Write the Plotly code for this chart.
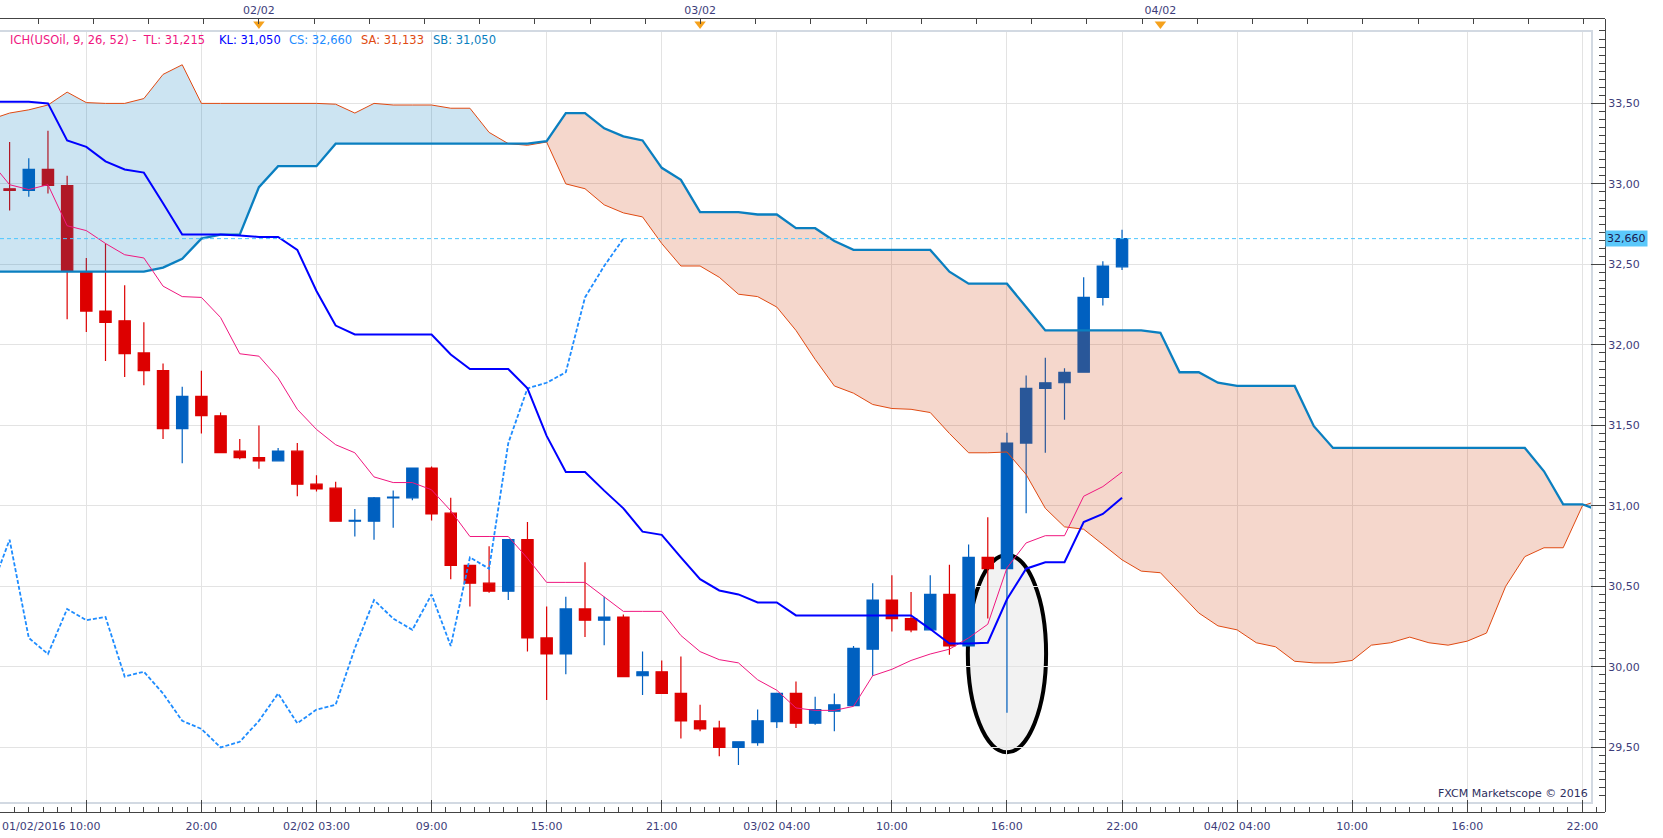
import plotly.graph_objects as go
import numpy as np

# ------------------------------------------------------------------ data
# x axis = hourly bar index (bar 0 = 01/02/2016 10:00, one bar per hour)
tick_bars = [4, 10, 16, 22, 28, 34, 40, 46, 52, 58, 64, 70, 76, 82]
tick_labels = ["", "20:00", "02/02 03:00", "09:00", "15:00", "21:00", "03/02 04:00",
               "10:00", "16:00", "22:00", "04/02 04:00", "10:00", "16:00", "22:00"]
first_label = "01/02/2016 10:00"
day_bars = [13, 36, 60]
day_labels = ["02/02", "03/02", "04/02"]
price_ticks = [29.5, 30.0, 30.5, 31.0, 31.5, 32.0, 32.5, 33.0, 33.5]

# candles, bars 0..58
opens = [32.97, 32.96, 33.09, 32.99, 32.455, 32.21, 32.15, 31.95, 31.84, 31.48,
         31.68, 31.56, 31.34, 31.30, 31.28, 31.34, 31.135, 31.11, 30.905, 30.905,
         31.05, 31.05, 31.235, 30.955, 30.63, 30.52, 30.47, 30.79, 30.18, 30.08,
         30.36, 30.29, 30.31, 29.945, 29.97, 29.835, 29.665, 29.62, 29.50, 29.53,
         29.66, 29.835, 29.65, 29.725, 29.76, 30.11, 30.415, 30.30, 30.23, 30.45,
         30.13, 30.68, 30.61, 31.39, 31.73, 31.765, 31.83, 32.295, 32.485]
highs = [33.26, 33.16, 33.33, 33.05, 32.54, 32.63, 32.37, 32.14, 31.885, 31.74,
         31.84, 31.58, 31.415, 31.50, 31.36, 31.39, 31.19, 31.15, 30.98, 31.055,
         31.095, 31.235, 31.245, 31.05, 30.63, 30.75, 30.79, 30.90, 30.375, 30.435,
         30.65, 30.435, 30.325, 30.095, 30.04, 30.065, 29.765, 29.665, 29.535, 29.735,
         29.835, 29.91, 29.815, 29.835, 30.13, 30.52, 30.57, 30.465, 30.57, 30.635,
         30.76, 30.93, 31.455, 31.81, 31.92, 31.855, 32.42, 32.52, 32.715]
lows = [32.835, 32.92, 32.94, 32.16, 32.08, 31.90, 31.80, 31.75, 31.415, 31.265,
        31.45, 31.33, 31.29, 31.23, 31.28, 31.06, 31.09, 30.905, 30.81, 30.79,
        30.865, 31.035, 30.91, 30.545, 30.375, 30.46, 30.415, 30.095, 29.795, 29.955,
        30.185, 30.135, 29.935, 29.825, 29.835, 29.555, 29.60, 29.445, 29.39, 29.51,
        29.62, 29.62, 29.64, 29.60, 29.76, 29.945, 30.22, 30.215, 30.23, 30.075,
        30.13, 30.30, 29.715, 30.955, 31.33, 31.535, 31.83, 32.245, 32.465]
closes = [32.96, 33.09, 32.99, 32.46, 32.21, 32.14, 31.945, 31.84, 31.48, 31.68,
          31.56, 31.33, 31.30, 31.28, 31.34, 31.135, 31.105, 30.905, 30.91, 31.05,
          31.055, 31.235, 30.95, 30.63, 30.52, 30.47, 30.79, 30.18, 30.08, 30.36,
          30.29, 30.31, 29.94, 29.97, 29.835, 29.665, 29.615, 29.50, 29.535, 29.665,
          29.835, 29.65, 29.735, 29.765, 30.115, 30.415, 30.30, 30.23, 30.45, 30.13,
          30.68, 30.61, 31.39, 31.73, 31.765, 31.83, 32.295, 32.49, 32.66]

# Ichimoku lines, bars -1..58
tenkan = [33.14, 32.995, 32.965, 32.995, 32.74, 32.71, 32.63, 32.56, 32.54, 32.365,
          32.30, 32.295, 32.17, 31.945, 31.93, 31.795, 31.60, 31.475, 31.38, 31.33,
          31.18, 31.145, 31.145, 31.10, 30.97, 30.81, 30.81, 30.81, 30.675, 30.525,
          30.525, 30.525, 30.435, 30.345, 30.345, 30.345, 30.195, 30.095, 30.045, 30.025,
          29.92, 29.855, 29.745, 29.73, 29.73, 29.755, 29.945, 29.985, 30.04, 30.08,
          30.11, 30.18, 30.265, 30.615, 30.77, 30.815, 30.815, 31.06, 31.12, 31.21]
kijun = [33.51, 33.51, 33.51, 33.50, 33.27, 33.23, 33.14, 33.09, 33.07, 32.88,
         32.685, 32.685, 32.685, 32.68, 32.67, 32.67, 32.59, 32.335, 32.12, 32.065,
         32.065, 32.065, 32.065, 32.065, 31.94, 31.85, 31.85, 31.85, 31.73, 31.435,
         31.21, 31.21, 31.095, 30.985, 30.84, 30.82, 30.68, 30.545, 30.475, 30.45,
         30.40, 30.40, 30.32, 30.32, 30.32, 30.32, 30.32, 30.32, 30.32, 30.235,
         30.145, 30.145, 30.15, 30.42, 30.61, 30.65, 30.65, 30.90, 30.95, 31.05]
# Chikou span, bars -1..32
chikou = [30.47, 30.79, 30.18, 30.08, 30.36, 30.29, 30.31, 29.94, 29.97, 29.835,
          29.665, 29.615, 29.50, 29.535, 29.665, 29.835, 29.65, 29.735, 29.765, 30.115,
          30.415, 30.30, 30.23, 30.45, 30.13, 30.68, 30.61, 31.39, 31.73, 31.765,
          31.83, 32.295, 32.49, 32.66]
# Senkou spans, bars -1..83
senkou_a = [33.40, 33.44, 33.46, 33.49, 33.57, 33.505, 33.50, 33.50, 33.53, 33.68,
            33.74, 33.50, 33.50, 33.50, 33.50, 33.50, 33.50, 33.50, 33.495, 33.44,
            33.50, 33.49, 33.49, 33.49, 33.47, 33.47, 33.32, 33.25, 33.24, 33.26,
            33.00, 32.97, 32.87, 32.82, 32.795, 32.63, 32.49, 32.49, 32.42, 32.315,
            32.30, 32.235, 32.09, 31.91, 31.745, 31.70, 31.63, 31.605, 31.60, 31.58,
            31.45, 31.33, 31.33, 31.335, 31.195, 30.985, 30.87, 30.855, 30.76, 30.665,
            30.595, 30.585, 30.46, 30.335, 30.255, 30.23, 30.15, 30.125, 30.035, 30.025,
            30.025, 30.04, 30.135, 30.15, 30.185, 30.15, 30.135, 30.16, 30.21, 30.50,
            30.685, 30.74, 30.74, 31.00, 31.04]
senkou_b = [32.455, 32.455, 32.455, 32.455, 32.455, 32.455, 32.455, 32.455, 32.455, 32.48,
            32.535, 32.66, 32.685, 32.685, 32.98, 33.11, 33.11, 33.11, 33.25, 33.25,
            33.25, 33.25, 33.25, 33.25, 33.25, 33.25, 33.25, 33.25, 33.25, 33.265,
            33.44, 33.44, 33.345, 33.295, 33.27, 33.10, 33.025, 32.825, 32.825, 32.825,
            32.81, 32.81, 32.725, 32.725, 32.645, 32.59, 32.59, 32.59, 32.59, 32.59,
            32.455, 32.38, 32.38, 32.38, 32.235, 32.09, 32.09, 32.09, 32.09, 32.09,
            32.09, 32.075, 31.83, 31.83, 31.765, 31.745, 31.745, 31.745, 31.745, 31.495,
            31.36, 31.36, 31.36, 31.36, 31.36, 31.36, 31.36, 31.36, 31.36, 31.36,
            31.36, 31.215, 31.01, 31.01, 30.965]

legend_items = [("ICH(USOil, 9, 26, 52) -", "TL: 31,215"), ("KL: 31,050",), ("CS: 32,660",),
                ("SA: 31,133",), ("SB: 31,050",)]
watermark = "FXCM Marketscope \u00a9 2016"
highlight_bar = 52

# ------------------------------------------------------------------ geometry / style
W, H = 1663, 838
AXIS_R, FRAME_R = 1605, 1591
TOP_AXIS, FRAME_T, FRAME_B, BOT_AXIS = 19, 32, 802, 812
BAR0_PX, PX_PER_BAR = 9.6, 19.18
REF_PRICE, REF_PX, PX_PER_UNIT = 33.5, 103.4, 161.0


def bar_at(px):
    return (px - BAR0_PX) / PX_PER_BAR


def price_at(py):
    return REF_PRICE - (py - REF_PX) / PX_PER_UNIT


plot_w = AXIS_R
plot_h = BOT_AXIS - TOP_AXIS
x_dom = [0, FRAME_R / plot_w]
y_dom = [(BOT_AXIS - FRAME_B) / plot_h, (BOT_AXIS - FRAME_T) / plot_h]
x_range = [bar_at(0), bar_at(FRAME_R)]
x_full = [bar_at(0), bar_at(AXIS_R)]
y_range = [price_at(FRAME_B), price_at(FRAME_T)]
y_full = [price_at(BOT_AXIS), price_at(TOP_AXIS)]

FONT = "DejaVu Sans"
LBL = "#3d3d7a"
AXC = "#444444"
GRID = "#e3e3e3"
FRAME = "#d2d9e2"
UP, DOWN = "#0060c0", "#dd0000"
C_TL, C_KL, C_CS, C_SA, C_SB = "#f0177f", "#0000ff", "#1e8cff", "#e04a12", "#0a7fc0"
FILL_UP = "rgba(0,120,190,0.2)"
FILL_DN = "rgba(205,55,0,0.2)"

bars = list(range(len(closes)))
line_bars = list(range(-1, len(tenkan) - 1))
chikou_bars = list(range(-1, len(chikou) - 1))
span_bars = list(range(-1, len(senkou_a) - 1))

fig = go.Figure()

fig.add_trace(go.Candlestick(
    x=bars, open=opens, high=highs, low=lows, close=closes,
    increasing=dict(line=dict(color=UP, width=1.2), fillcolor=UP),
    decreasing=dict(line=dict(color=DOWN, width=1.2), fillcolor=DOWN),
    whiskerwidth=0, hoverinfo="skip", showlegend=False, xaxis="x", yaxis="y"))


# kumo fill, split where the spans cross
def cloud_segments(xs, a, b):
    segs = []
    cur = [(xs[0], a[0], b[0])]
    sign = a[0] - b[0] >= 0
    for i in range(1, len(xs)):
        d = a[i] - b[i]
        s = d >= 0
        if s != sign:
            d0 = a[i - 1] - b[i - 1]
            t = d0 / (d0 - d)
            xc = xs[i - 1] + t * (xs[i] - xs[i - 1])
            yc = a[i - 1] + t * (a[i] - a[i - 1])
            cur.append((xc, yc, yc))
            segs.append((sign, cur))
            cur = [(xc, yc, yc)]
            sign = s
        cur.append((xs[i], a[i], b[i]))
    segs.append((sign, cur))
    return segs


for up, pts in cloud_segments(span_bars, senkou_a, senkou_b):
    px_ = [p[0] for p in pts] + [p[0] for p in reversed(pts)]
    py_ = [p[1] for p in pts] + [p[2] for p in reversed(pts)]
    fig.add_trace(go.Scatter(x=px_, y=py_, fill="toself", mode="lines",
                             line=dict(width=0), fillcolor=FILL_UP if up else FILL_DN,
                             hoverinfo="skip", showlegend=False))

fig.add_trace(go.Scatter(x=span_bars, y=senkou_a, mode="lines",
                         line=dict(color=C_SA, width=1), hoverinfo="skip", showlegend=False))
fig.add_trace(go.Scatter(x=span_bars, y=senkou_b, mode="lines",
                         line=dict(color=C_SB, width=2.3), hoverinfo="skip", showlegend=False))
fig.add_trace(go.Scatter(x=chikou_bars, y=chikou, mode="lines",
                         line=dict(color=C_CS, width=1.8, dash="4px,2px"),
                         hoverinfo="skip", showlegend=False))
fig.add_trace(go.Scatter(x=line_bars, y=tenkan, mode="lines",
                         line=dict(color=C_TL, width=1), hoverinfo="skip", showlegend=False))
fig.add_trace(go.Scatter(x=line_bars, y=kijun, mode="lines",
                         line=dict(color=C_KL, width=2), hoverinfo="skip", showlegend=False))

# day markers on the top time axis
fig.add_trace(go.Scatter(x=day_bars, y=[price_at(24)] * len(day_bars), mode="markers",
                         marker=dict(symbol="triangle-down", size=10, color="#f5a11c"),
                         xaxis="x3", yaxis="y2", hoverinfo="skip", showlegend=False))
# anchor trace for the bottom time axis
fig.add_trace(go.Scatter(x=[bars[-1]], y=[closes[-1]], mode="markers",
                         marker=dict(opacity=0), xaxis="x2", yaxis="y2",
                         hoverinfo="skip", showlegend=False))

tickfont = dict(family=FONT, size=11, color=LBL)
minor_y = [round(v, 2) for v in np.arange(29.20, 33.95, 0.05)]

fig.update_layout(
    width=W, height=H,
    margin=dict(l=0, r=W - AXIS_R, t=TOP_AXIS, b=H - BOT_AXIS, pad=0),
    paper_bgcolor="white", plot_bgcolor="rgba(0,0,0,0)",
    separators=",.",
    hovermode=False, showlegend=False,
    boxgap=0.41, boxgroupgap=0,
    font=dict(family=FONT, size=11, color=LBL),
    xaxis=dict(domain=x_dom, range=x_range, anchor="y", showgrid=True, gridcolor=GRID,
               gridwidth=1, tickmode="array", tickvals=tick_bars, showticklabels=False,
               ticks="", zeroline=False, showline=True, mirror=True, linecolor=FRAME,
               linewidth=2, rangeslider=dict(visible=False), fixedrange=True),
    yaxis=dict(domain=y_dom, range=y_range, anchor="x", showgrid=True, gridcolor=GRID,
               tickmode="array", tickvals=price_ticks, showticklabels=False, ticks="",
               zeroline=False, showline=True, mirror=True, linecolor=FRAME, linewidth=2,
               fixedrange=True),
    xaxis2=dict(domain=[0, 1], range=x_full, anchor="y2", side="bottom", showgrid=False,
                zeroline=False, tickmode="array", tickvals=tick_bars, ticktext=tick_labels,
                ticks="inside", ticklen=12, tickcolor=AXC, tickwidth=1,
                showline=True, linecolor=AXC, linewidth=1, tickfont=tickfont,
                ticklabelstandoff=4,
                minor=dict(ticks="inside", ticklen=5, tickcolor=AXC, tickmode="linear",
                           tick0=4, dtick=0.75, showgrid=False),
                fixedrange=True),
    xaxis3=dict(domain=[0, 1], range=x_full, anchor="y2", side="top", showgrid=False,
                zeroline=False, tickmode="array", tickvals=day_bars, ticktext=day_labels,
                ticks="inside", ticklen=0, tickcolor=AXC,
                showline=True, linecolor=AXC, linewidth=1, tickfont=tickfont,
                minor=dict(ticks="inside", ticklen=5, tickcolor=AXC, tickmode="linear",
                           tick0=day_bars[0], dtick=55.2 / PX_PER_BAR, showgrid=False),
                fixedrange=True),
    yaxis2=dict(domain=[0, 1], range=y_full, anchor="free", position=1, side="right",
                showgrid=False, zeroline=False, tickmode="array", tickvals=price_ticks,
                tickformat=".2f", ticks="inside", ticklen=14, tickcolor=AXC,
                showline=True, linecolor=AXC, linewidth=1, tickfont=tickfont,
                minor=dict(ticks="inside", ticklen=6, tickcolor=AXC, tickmode="array",
                           tickvals=minor_y, showgrid=False),
                fixedrange=True),
)

# current price line + label
last = closes[-1]
fig.add_shape(type="line", xref="x domain", yref="y", x0=0, x1=1, y0=last, y1=last,
              line=dict(color="#4cc6ff", width=1, dash="4px,3px"))
fig.add_annotation(xref="paper", yref="y", x=1, y=last, xanchor="left", yanchor="middle",
                   text=f"{last:.3f}".replace(".", ","), showarrow=False,
                   bgcolor="#5ac8fa", borderpad=1,
                   font=dict(family=FONT, size=11, color="#1a1a50"))

# highlight ellipse around the 16:00 spike
lo_spike = lows[highlight_bar]
fig.add_shape(type="circle", xref="x", yref="y",
              x0=highlight_bar - 2.04, x1=highlight_bar + 2.04,
              y0=lo_spike - 0.245, y1=opens[highlight_bar] + 0.085,
              line=dict(color="black", width=4), fillcolor="rgba(0,0,0,0.05)", layer="below")

# indicator header
header_px = [7.9, 216.8, 286.8, 359.0, 431.0]
header_col = [C_TL, C_KL, C_CS, C_SA, C_SB]
for px, col, item in zip(header_px, header_col, legend_items):
    txt = "\u00a0\u00a0".join(item)
    fig.add_annotation(xref="paper", yref="paper", x=px / plot_w,
                       y=(BOT_AXIS - 40) / plot_h, xanchor="left", yanchor="middle",
                       text=txt, showarrow=False,
                       font=dict(family=FONT, size=11.5, color=col))

# first bottom label (left aligned at the edge)
fig.add_annotation(xref="paper", yref="paper", x=0, y=-(826 - BOT_AXIS) / plot_h,
                   xanchor="left", yanchor="middle", text=first_label, showarrow=False,
                   font=tickfont)

# watermark
fig.add_annotation(xref="paper", yref="paper", x=(FRAME_R - 1) / plot_w,
                   y=(BOT_AXIS - 793) / plot_h, xanchor="right", yanchor="middle",
                   text=watermark, showarrow=False,
                   font=dict(family=FONT, size=11, color="#2e2e5e"))

fig.write_html("out.html",
               config={"displayModeBar": False, "staticPlot": True},
               post_script="document.body.style.margin='0px';"
                           "document.body.style.overflow='hidden';")
